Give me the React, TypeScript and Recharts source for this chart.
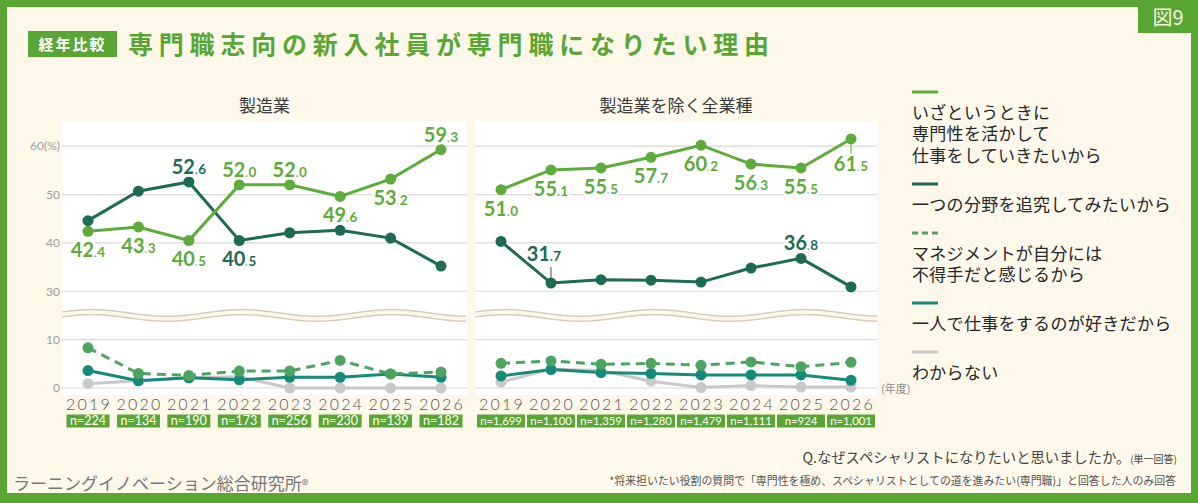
import React from "react";
import {
  LineChart,
  Line,
  XAxis,
  YAxis,
  CartesianGrid,
  ReferenceLine,
  LabelList,
} from "recharts";

const YEARS = ["2019", "2020", "2021", "2022", "2023", "2024", "2025", "2026"];

const REASONS = [
  "いざというときに\n専門性を活かして\n仕事をしていきたいから",
  "一つの分野を追究してみたいから",
  "マネジメントが自分には\n不得手だと感じるから",
  "一人で仕事をするのが好きだから",
  "わからない",
];

// 製造業
const MFG_N = ["224", "134", "190", "173", "256", "230", "139", "182"];
const MFG_EXPERTISE = [42.4, 43.3, 40.5, 52.0, 52.0, 49.6, 53.2, 59.3];
const MFG_FOCUS = [44.6, 50.7, 52.6, 40.5, 42.1, 42.6, 41.0, 35.2];
const MFG_MANAGEMENT = [8.3, 3.0, 2.6, 3.5, 3.5, 5.7, 2.9, 3.3];
const MFG_SOLO = [3.6, 1.5, 2.1, 1.7, 2.2, 2.2, 2.9, 2.2];
const MFG_UNKNOWN = [0.9, 1.5, 2.1, 2.3, 0, 0, 0, 0];

// 製造業を除く全業種
const ALL_N = ["1,699", "1,100", "1,359", "1,280", "1,479", "1,111", "924", "1,001"];
const ALL_EXPERTISE = [51.0, 55.1, 55.5, 57.7, 60.2, 56.3, 55.5, 61.5];
const ALL_FOCUS = [40.3, 31.7, 32.4, 32.3, 31.9, 34.8, 36.8, 30.9];
const ALL_MANAGEMENT = [5.1, 5.6, 4.9, 5.1, 4.7, 5.4, 4.4, 5.3];
const ALL_SOLO = [2.5, 3.8, 3.2, 3.0, 2.7, 2.7, 2.7, 1.6];
const ALL_UNKNOWN = [1.2, 3.9, 3.6, 1.4, 0.1, 0.5, 0.2, 0.2];

const Y_TICKS = [0, 10, 30, 40, 50, 60];

const GREEN = "#5aa634";
const CREAM = "#fdf8e9";
const JP = '"Noto Sans CJK JP", "Noto Sans", sans-serif';
const NUM = 'Lato, "Noto Sans", sans-serif';

const KEYS = ["expertise", "focus", "management", "solo", "unknown"];
const COLORS = ["#5dab3b", "#1f6a55", "#4ca45e", "#168a7a", "#c9c9c9"];
const DASHED = [false, false, true, false, false];

// the axis skips the 10–30% band, so values above it move down by 10
const toAxis = (v: number) => (v >= 20 ? v - 10 : v);
const AXIS_TICKS = Y_TICKS.map(toAxis);

type Tag = "above" | "below" | "aboveLead" | "belowLead" | null;

const MFG_TAGS: Record<string, Tag[]> = {
  expertise: ["below", "below", "below", "above", "above", "below", "below", "above"],
  focus: [null, null, "above", "below", null, null, null, null],
};
const ALL_TAGS: Record<string, Tag[]> = {
  expertise: ["below", "below", "below", "below", "below", "below", "below", "belowLead"],
  focus: [null, "aboveLead", null, null, null, null, "above", null],
};

function buildRows(series: number[][]) {
  return YEARS.map((year, i) => {
    const row: Record<string, any> = { year };
    KEYS.forEach((k, s) => {
      row[k] = toAxis(series[s][i]);
      row[k + "Raw"] = series[s][i];
    });
    return row;
  });
}

const mfgRows = buildRows([MFG_EXPERTISE, MFG_FOCUS, MFG_MANAGEMENT, MFG_SOLO, MFG_UNKNOWN]);
const allRows = buildRows([ALL_EXPERTISE, ALL_FOCUS, ALL_MANAGEMENT, ALL_SOLO, ALL_UNKNOWN]);

function makeLabel(color: string, tags: Tag[]) {
  return (props: any) => {
    const tag = tags[props.index];
    if (!tag || props.value == null) return null;
    const x = props.x ?? props.viewBox?.x;
    const y = props.y ?? props.viewBox?.y;
    const [ip, dp] = Number(props.value).toFixed(1).split(".");
    const above = tag.startsWith("above");
    const lead = tag.endsWith("Lead");
    const cy = above ? y - (lead ? 29 : 15) : y + (lead ? 25 : 19);
    const dx = tag === "aboveLead" ? -7 : 0;
    return (
      <g>
        {lead && (
          <line
            x1={x}
            x2={x}
            y1={above ? y - 16 : y + 4}
            y2={above ? y - 3 : y + 16}
            stroke={color}
            strokeWidth={1}
          />
        )}
        <text
          x={x + dx}
          y={cy + 7}
          textAnchor="middle"
          fill={color}
          stroke="#fff"
          strokeWidth={5}
          strokeLinejoin="round"
          paintOrder="stroke"
          fontFamily={NUM}
          fontWeight={700}
        >
          <tspan fontSize={20}>{ip}</tspan>
          <tspan fontSize={13.5}>.{dp}</tspan>
        </text>
      </g>
    );
  };
}

function yearTick(counts: string[], boxWidth: number, countSize: number) {
  return (props: any) => {
    const { x, y, payload, index } = props;
    return (
      <g>
        <text
          x={x + 1}
          y={y + 21.5}
          textAnchor="middle"
          fontFamily={NUM}
          fontWeight={300}
          fontSize={16}
          letterSpacing={2.2}
          fill="#555"
        >
          {payload.value}
        </text>
        <rect x={x - boxWidth / 2} y={y + 26.5} width={boxWidth} height={13} fill={GREEN} />
        <text
          x={x}
          y={y + 37.3}
          textAnchor="middle"
          fontFamily={NUM}
          fontSize={countSize}
          fill="#fff"
        >
          n={counts[index]}
        </text>
      </g>
    );
  };
}

// double wavy band marking the cut between 10% and 30%
function BreakMark(props: any) {
  const { x1, x2, y1 } = props;
  if (x1 == null) return null;
  const wave = (off: number) => {
    const pts: string[] = [];
    for (let x = x1; x <= x2; x += 2) {
      const y = y1 + off - 3.3 * Math.cos((2 * Math.PI * (x - x1 - 30)) / 150);
      pts.push(`${x.toFixed(1)},${y.toFixed(2)}`);
    }
    return pts;
  };
  const top = wave(-2.5);
  const bottom = wave(2.5);
  return (
    <g>
      <path d={`M${top.join("L")}L${[...bottom].reverse().join("L")}Z`} fill={CREAM} />
      <path d={`M${top.join("L")}`} fill="none" stroke="#d3ccb6" strokeWidth={1.4} />
      <path d={`M${bottom.join("L")}`} fill="none" stroke="#d3ccb6" strokeWidth={1.4} />
    </g>
  );
}

interface PanelProps {
  rows: Record<string, any>[];
  counts: string[];
  tags: Record<string, Tag[]>;
  boxWidth: number;
  countSize: number;
  showY: boolean;
  width: number;
  left: number;
}

function Panel({ rows, counts, tags, boxWidth, countSize, showY, width, left }: PanelProps) {
  const order = [4, 3, 2, 1, 0];
  return (
    <div style={{ position: "absolute", left, top: 0 }}>
      <LineChart
        width={width}
        height={445}
        data={rows}
        margin={{ top: 122, right: showY ? 13 : 0, bottom: 7, left: 0 }}
      >
        <CartesianGrid
          vertical={false}
          stroke="#dadada"
          strokeWidth={1.2}
          horizontalValues={AXIS_TICKS}
        />
        <XAxis
          dataKey="year"
          type="category"
          padding={{ left: 26, right: 26 }}
          axisLine={false}
          tickLine={false}
          tickSize={0}
          tickMargin={0}
          height={50}
          interval={0}
          tick={yearTick(counts, boxWidth, countSize)}
        />
        <YAxis
          type="number"
          domain={[0, 55]}
          ticks={AXIS_TICKS}
          hide={!showY}
          width={62}
          axisLine={false}
          tickLine={false}
          tickSize={0}
          tickMargin={2}
          tick={{ fill: "#9d9d9d", fontSize: 12, fontFamily: NUM }}
          tickFormatter={(v: number) => {
            const i = AXIS_TICKS.indexOf(v);
            return i === Y_TICKS.length - 1 ? `${Y_TICKS[i]}(%)` : `${Y_TICKS[i]}`;
          }}
        />
        <ReferenceLine y={15} shape={(p: any) => <BreakMark {...p} />} />
        {order.map((s) => (
          <Line
            key={KEYS[s]}
            type="linear"
            dataKey={KEYS[s]}
            stroke={COLORS[s]}
            strokeWidth={3}
            strokeDasharray={DASHED[s] ? "9 6" : undefined}
            dot={{ r: 5.5, fill: COLORS[s], stroke: COLORS[s], strokeWidth: 0 }}
            activeDot={false}
            isAnimationActive={false}
          >
            {tags[KEYS[s]] && (
              <LabelList dataKey={KEYS[s] + "Raw"} content={makeLabel(COLORS[s], tags[KEYS[s]])} />
            )}
          </Line>
        ))}
      </LineChart>
    </div>
  );
}

function LegendSample({ color, dashed }: { color: string; dashed: boolean }) {
  return (
    <svg width={28} height={4} style={{ display: "block" }}>
      <line
        x1={0}
        x2={26}
        y1={2}
        y2={2}
        stroke={color}
        strokeWidth={3}
        strokeDasharray={dashed ? "6 4" : undefined}
      />
    </svg>
  );
}

export default function App() {
  return (
    <div
      style={{
        position: "relative",
        width: 1198,
        height: 503,
        background: GREEN,
        overflow: "hidden",
        fontFamily: JP,
      }}
    >
      <style>{`body{margin:0}`}</style>
      <div style={{ position: "absolute", left: 7, top: 7, width: 1184, height: 486, background: CREAM }} />

      <div
        style={{
          position: "absolute",
          left: 1138,
          top: 0,
          width: 60,
          height: 33,
          background: GREEN,
          color: "#f6f1dc",
          fontSize: 20,
          lineHeight: "33px",
          textAlign: "center",
        }}
      >
        図9
      </div>

      <div
        style={{
          position: "absolute",
          left: 28,
          top: 31,
          width: 89,
          height: 26,
          background: GREEN,
          color: "#fff",
          fontWeight: 700,
          fontSize: 15,
          letterSpacing: 2,
          lineHeight: "26px",
          textAlign: "center",
        }}
      >
        経年比較
      </div>
      <div
        style={{
          position: "absolute",
          left: 128,
          top: 26,
          color: GREEN,
          fontWeight: 700,
          fontSize: 25,
          letterSpacing: 5.8,
          lineHeight: "34px",
          whiteSpace: "nowrap",
        }}
      >
        専門職志向の新入社員が専門職になりたい理由
      </div>

      <div style={{ position: "absolute", left: 62, top: 121, width: 405, height: 274, background: "#fff" }} />
      <div style={{ position: "absolute", left: 475, top: 121, width: 402, height: 274, background: "#fff" }} />

      <div style={{ position: "absolute", left: 62, width: 405, top: 93, textAlign: "center", fontSize: 17, color: "#3a3a3a", lineHeight: "24px" }}>
        製造業
      </div>
      <div style={{ position: "absolute", left: 475, width: 402, top: 93, textAlign: "center", fontSize: 17, color: "#3a3a3a", lineHeight: "24px" }}>
        製造業を除く全業種
      </div>

      <Panel rows={mfgRows} counts={MFG_N} tags={MFG_TAGS} boxWidth={43} countSize={12.5} showY width={480} left={0} />
      <Panel rows={allRows} counts={ALL_N} tags={ALL_TAGS} boxWidth={48} countSize={11.3} showY={false} width={402} left={475} />

      <div style={{ position: "absolute", left: 881, top: 380, fontSize: 11, color: "#8a8a8a", lineHeight: "16px" }}>
        (年度)
      </div>

      <div style={{ position: "absolute", left: 912, top: 90, display: "flex", flexDirection: "column" }}>
        {REASONS.map((name, i) => (
          <div key={name} style={{ marginTop: i === 0 ? 0 : 16.5 }}>
            <LegendSample color={COLORS[i]} dashed={DASHED[i]} />
            <div
              style={{
                marginTop: 7,
                fontSize: 17,
                letterSpacing: 0.3,
                lineHeight: "21.4px",
                color: "#262626",
                whiteSpace: "pre-line",
              }}
            >
              {name}
            </div>
          </div>
        ))}
      </div>

      <div style={{ position: "absolute", right: 21, top: 447, fontSize: 14.3, color: "#444", lineHeight: "20px", whiteSpace: "nowrap" }}>
        Q.なぜスペシャリストになりたいと思いましたか。<span style={{ fontSize: 10 }}>(単一回答)</span>
      </div>
      <div style={{ position: "absolute", right: 22, top: 472, fontSize: 10.9, color: "#555", lineHeight: "16px", whiteSpace: "nowrap" }}>
        *将来担いたい役割の質問で「専門性を極め、スペシャリストとしての道を進みたい(専門職)」と回答した人のみ回答
      </div>

      <div style={{ position: "absolute", left: 13, top: 471, fontSize: 17, color: "#777", lineHeight: "24px", whiteSpace: "nowrap" }}>
        ラーニングイノベーション総合研究所<span style={{ fontSize: 14 }}>®</span>
      </div>
    </div>
  );
}
